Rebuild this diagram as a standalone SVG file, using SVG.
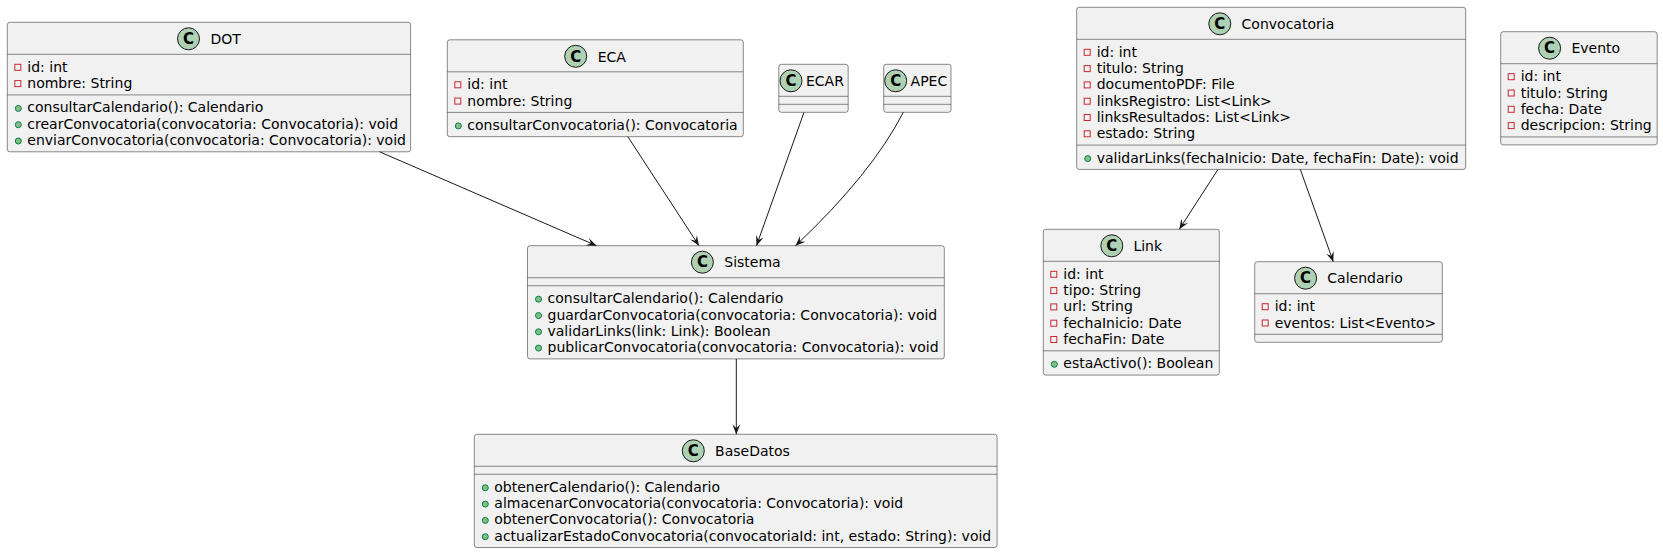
<svg xmlns="http://www.w3.org/2000/svg" width="1663" height="554" viewBox="0 0 1663 554">
<style>
text{font-family:"DejaVu Sans","Liberation Sans",sans-serif;font-size:14px;fill:#000}
.box{fill:#F1F1F1;stroke:#181818;stroke-width:0.5}
.sep{stroke:#181818;stroke-width:0.5}
.ci{fill:#ADD1B2;stroke:#181818;stroke-width:1}
.cg{font-weight:bold;font-size:15px;text-anchor:middle}
.pr{fill:none;stroke:#C82930;stroke-width:1}
.pu{fill:#84BE84;stroke:#038048;stroke-width:1}
.edge{fill:none;stroke:#181818;stroke-width:1;marker-end:url(#arr)}
</style>
<defs>
<marker id="arr" viewBox="0 0 10 10" refX="10" refY="5" markerWidth="10" markerHeight="10" orient="auto" markerUnits="userSpaceOnUse"><path d="M10,5 L0,1 L4,5 L0,9 Z" fill="#181818"/></marker>
</defs>
<rect width="1663" height="554" fill="#FFFFFF"/>

<g id="DOT">
<rect class="box" x="7.3" y="22.3" width="403.3" height="129.5" rx="2.5"/>
<circle class="ci" cx="188.5" cy="38.8" r="11"/><text class="cg" x="188.5" y="44">C</text>
<text x="210.5" y="44">DOT</text>
<line class="sep" x1="7.3" y1="54.3" x2="410.6" y2="54.3"/>
<rect class="pr" x="14.8" y="64.3" width="6" height="6"/><text x="27.3" y="71.8">id: int</text>
<rect class="pr" x="14.8" y="80.6" width="6" height="6"/><text x="27.3" y="88.1">nombre: String</text>
<line class="sep" x1="7.3" y1="94.9" x2="410.6" y2="94.9"/>
<circle class="pu" cx="18.3" cy="108.4" r="3"/><text x="27.3" y="112.4">consultarCalendario(): Calendario</text>
<circle class="pu" cx="18.3" cy="124.7" r="3"/><text x="27.3" y="128.7">crearConvocatoria(convocatoria: Convocatoria): void</text>
<circle class="pu" cx="18.3" cy="141" r="3"/><text x="27.3" y="145">enviarConvocatoria(convocatoria: Convocatoria): void</text>
</g>

<g id="ECA">
<rect class="box" x="447.3" y="39.8" width="296" height="96.9" rx="2.5"/>
<circle class="ci" cx="575.7" cy="56.3" r="11"/><text class="cg" x="575.7" y="61.5">C</text>
<text x="597.7" y="61.5">ECA</text>
<line class="sep" x1="447.3" y1="71.8" x2="743.3" y2="71.8"/>
<rect class="pr" x="454.8" y="81.8" width="6" height="6"/><text x="467.3" y="89.3">id: int</text>
<rect class="pr" x="454.8" y="98.1" width="6" height="6"/><text x="467.3" y="105.6">nombre: String</text>
<line class="sep" x1="447.3" y1="112.4" x2="743.3" y2="112.4"/>
<circle class="pu" cx="458.3" cy="125.9" r="3"/><text x="467.3" y="129.9">consultarConvocatoria(): Convocatoria</text>
</g>

<g id="ECAR">
<rect class="box" x="778.8" y="64.3" width="69.4" height="48" rx="2.5"/>
<circle class="ci" cx="791" cy="80.8" r="11"/><text class="cg" x="791" y="86">C</text>
<text x="806" y="86">ECAR</text>
<line class="sep" x1="778.8" y1="96.3" x2="848.2" y2="96.3"/>
<line class="sep" x1="778.8" y1="104.3" x2="848.2" y2="104.3"/>
</g>

<g id="APEC">
<rect class="box" x="883.7" y="64.3" width="67.3" height="48" rx="2.5"/>
<circle class="ci" cx="895.7" cy="80.8" r="11"/><text class="cg" x="895.7" y="86">C</text>
<text x="910.6" y="86">APEC</text>
<line class="sep" x1="883.7" y1="96.3" x2="951" y2="96.3"/>
<line class="sep" x1="883.7" y1="104.3" x2="951" y2="104.3"/>
</g>

<g id="Convocatoria">
<rect class="box" x="1076.7" y="7.3" width="389" height="162.1" rx="2.5"/>
<circle class="ci" cx="1219.8" cy="23.8" r="11"/><text class="cg" x="1219.8" y="29">C</text>
<text x="1241.6" y="29">Convocatoria</text>
<line class="sep" x1="1076.7" y1="39.3" x2="1465.7" y2="39.3"/>
<rect class="pr" x="1084.2" y="49.3" width="6" height="6"/><text x="1096.7" y="56.8">id: int</text>
<rect class="pr" x="1084.2" y="65.6" width="6" height="6"/><text x="1096.7" y="73.1">titulo: String</text>
<rect class="pr" x="1084.2" y="81.9" width="6" height="6"/><text x="1096.7" y="89.4">documentoPDF: File</text>
<rect class="pr" x="1084.2" y="98.2" width="6" height="6"/><text x="1096.7" y="105.7">linksRegistro: List&lt;Link&gt;</text>
<rect class="pr" x="1084.2" y="114.5" width="6" height="6"/><text x="1096.7" y="122">linksResultados: List&lt;Link&gt;</text>
<rect class="pr" x="1084.2" y="130.8" width="6" height="6"/><text x="1096.7" y="138.3">estado: String</text>
<line class="sep" x1="1076.7" y1="145.1" x2="1465.7" y2="145.1"/>
<circle class="pu" cx="1087.7" cy="158.6" r="3"/><text x="1096.7" y="162.6">validarLinks(fechaInicio: Date, fechaFin: Date): void</text>
</g>

<g id="Evento">
<rect class="box" x="1500.7" y="31.7" width="156.5" height="113.2" rx="2.5"/>
<circle class="ci" cx="1549.6" cy="48.2" r="11"/><text class="cg" x="1549.6" y="53.4">C</text>
<text x="1571.4" y="53.4">Evento</text>
<line class="sep" x1="1500.7" y1="63.7" x2="1657.2" y2="63.7"/>
<rect class="pr" x="1508.2" y="73.7" width="6" height="6"/><text x="1520.7" y="81.2">id: int</text>
<rect class="pr" x="1508.2" y="90" width="6" height="6"/><text x="1520.7" y="97.5">titulo: String</text>
<rect class="pr" x="1508.2" y="106.3" width="6" height="6"/><text x="1520.7" y="113.8">fecha: Date</text>
<rect class="pr" x="1508.2" y="122.6" width="6" height="6"/><text x="1520.7" y="130.1">descripcion: String</text>
<line class="sep" x1="1500.7" y1="136.9" x2="1657.2" y2="136.9"/>
</g>

<g id="Sistema">
<rect class="box" x="527.5" y="245.7" width="416.8" height="113.2" rx="2.5"/>
<circle class="ci" cx="702.4" cy="262.2" r="11"/><text class="cg" x="702.4" y="267.4">C</text>
<text x="724.3" y="267.4">Sistema</text>
<line class="sep" x1="527.5" y1="277.7" x2="944.3" y2="277.7"/>
<line class="sep" x1="527.5" y1="285.7" x2="944.3" y2="285.7"/>
<circle class="pu" cx="538.5" cy="299.2" r="3"/><text x="547.5" y="303.2">consultarCalendario(): Calendario</text>
<circle class="pu" cx="538.5" cy="315.5" r="3"/><text x="547.5" y="319.5">guardarConvocatoria(convocatoria: Convocatoria): void</text>
<circle class="pu" cx="538.5" cy="331.8" r="3"/><text x="547.5" y="335.8">validarLinks(link: Link): Boolean</text>
<circle class="pu" cx="538.5" cy="348.1" r="3"/><text x="547.5" y="352.1">publicarConvocatoria(convocatoria: Convocatoria): void</text>
</g>

<g id="BaseDatos">
<rect class="box" x="474.3" y="434.3" width="522.8" height="113.2" rx="2.5"/>
<circle class="ci" cx="693.3" cy="450.8" r="11"/><text class="cg" x="693.3" y="456">C</text>
<text x="715.1" y="456">BaseDatos</text>
<line class="sep" x1="474.3" y1="466.3" x2="997.1" y2="466.3"/>
<line class="sep" x1="474.3" y1="474.3" x2="997.1" y2="474.3"/>
<circle class="pu" cx="485.3" cy="487.8" r="3"/><text x="494.3" y="491.8">obtenerCalendario(): Calendario</text>
<circle class="pu" cx="485.3" cy="504.1" r="3"/><text x="494.3" y="508.1">almacenarConvocatoria(convocatoria: Convocatoria): void</text>
<circle class="pu" cx="485.3" cy="520.4" r="3"/><text x="494.3" y="524.4">obtenerConvocatoria(): Convocatoria</text>
<circle class="pu" cx="485.3" cy="536.7" r="3"/><text x="494.3" y="540.7">actualizarEstadoConvocatoria(convocatoriaId: int, estado: String): void</text>
</g>

<g id="Link">
<rect class="box" x="1043.3" y="229.3" width="176" height="145.8" rx="2.5"/>
<circle class="ci" cx="1111.8" cy="245.8" r="11"/><text class="cg" x="1111.8" y="251">C</text>
<text x="1133.4" y="251">Link</text>
<line class="sep" x1="1043.3" y1="261.3" x2="1219.3" y2="261.3"/>
<rect class="pr" x="1050.8" y="271.3" width="6" height="6"/><text x="1063.3" y="278.8">id: int</text>
<rect class="pr" x="1050.8" y="287.6" width="6" height="6"/><text x="1063.3" y="295.1">tipo: String</text>
<rect class="pr" x="1050.8" y="303.9" width="6" height="6"/><text x="1063.3" y="311.4">url: String</text>
<rect class="pr" x="1050.8" y="320.2" width="6" height="6"/><text x="1063.3" y="327.7">fechaInicio: Date</text>
<rect class="pr" x="1050.8" y="336.5" width="6" height="6"/><text x="1063.3" y="344">fechaFin: Date</text>
<line class="sep" x1="1043.3" y1="350.8" x2="1219.3" y2="350.8"/>
<circle class="pu" cx="1054.3" cy="364.3" r="3"/><text x="1063.3" y="368.3">estaActivo(): Boolean</text>
</g>

<g id="Calendario">
<rect class="box" x="1254.7" y="261.7" width="187.6" height="80.6" rx="2.5"/>
<circle class="ci" cx="1305.6" cy="278.2" r="11"/><text class="cg" x="1305.6" y="283.4">C</text>
<text x="1327.3" y="283.4">Calendario</text>
<line class="sep" x1="1254.7" y1="293.7" x2="1442.3" y2="293.7"/>
<rect class="pr" x="1262.2" y="303.7" width="6" height="6"/><text x="1274.7" y="311.2">id: int</text>
<rect class="pr" x="1262.2" y="320" width="6" height="6"/><text x="1274.7" y="327.5">eventos: List&lt;Evento&gt;</text>
<line class="sep" x1="1254.7" y1="334.3" x2="1442.3" y2="334.3"/>
</g>

<g id="connectors">
<path class="edge" d="M379.6,151.8 L596.5,245.7"/>
<path class="edge" d="M627.8,136.7 L699,245.7"/>
<path class="edge" d="M804,112.3 L756.5,245.7"/>
<path class="edge" d="M903.3,112.3 Q871.5,174.2 795.5,245.7"/>
<path class="edge" d="M736.3,358.9 L736.3,434.3"/>
<path class="edge" d="M1218,169.4 L1179.3,229.3"/>
<path class="edge" d="M1300.3,169.4 L1333.3,261.7"/>
</g>
</svg>
